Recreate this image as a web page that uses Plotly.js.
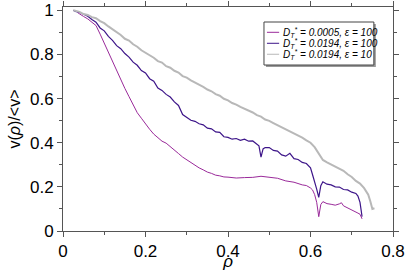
<!DOCTYPE html>
<html><head><meta charset="utf-8">
<script src="https://cdn.plot.ly/plotly-3.0.1.min.js"></script>
<style>html,body{margin:0;padding:0;background:#fff}#c{width:407px;height:271px}</style>
</head><body><div id="c"></div>
<script>
const seriesNames = [
  "<i>D<sub>T</sub><sup>*</sup> = 0.0005, ε = 100</i>",
  "<i>D<sub>T</sub><sup>*</sup> = 0.0194, ε = 100</i>",
  "<i>D<sub>T</sub><sup>*</sup> = 0.0194, ε = 10</i>"
];
const rhoA = [0.035,0.04,0.05,0.06,0.07,0.08,0.09,0.10,0.11,0.12,0.13,0.14,0.15,0.16,0.17,0.18,0.19,0.20,0.21,0.22,0.23,0.24,0.25,0.26,0.27,0.28,0.29,0.30,0.31,0.32,0.33,0.34,0.35,0.36,0.37,0.38,0.39,0.40,0.42,0.44,0.46,0.48,0.50,0.52,0.54,0.56,0.58,0.59,0.60,0.605,0.61,0.615,0.62,0.625,0.63,0.64,0.65,0.66,0.67,0.675,0.68,0.69,0.70,0.71,0.715,0.72,0.725];
const vA = [0.990,0.985,0.972,0.961,0.947,0.931,0.892,0.850,0.812,0.764,0.724,0.684,0.646,0.609,0.572,0.536,0.511,0.485,0.461,0.439,0.423,0.407,0.398,0.381,0.364,0.351,0.335,0.323,0.307,0.298,0.286,0.277,0.267,0.261,0.253,0.250,0.245,0.244,0.240,0.242,0.243,0.248,0.244,0.239,0.227,0.221,0.209,0.206,0.195,0.186,0.165,0.130,0.065,0.120,0.133,0.124,0.121,0.117,0.123,0.128,0.114,0.105,0.096,0.089,0.081,0.076,0.055];
const rhoB = [0.025,0.03,0.04,0.05,0.06,0.07,0.08,0.09,0.10,0.11,0.12,0.13,0.14,0.15,0.16,0.17,0.18,0.19,0.20,0.21,0.22,0.23,0.24,0.25,0.26,0.27,0.28,0.29,0.30,0.31,0.32,0.33,0.34,0.35,0.36,0.37,0.38,0.39,0.40,0.41,0.42,0.43,0.44,0.45,0.46,0.47,0.475,0.48,0.485,0.49,0.50,0.51,0.52,0.53,0.54,0.55,0.56,0.57,0.58,0.59,0.60,0.605,0.61,0.615,0.62,0.625,0.63,0.64,0.65,0.66,0.67,0.68,0.69,0.70,0.71,0.715,0.72,0.725];
const vB = [1.000,0.995,0.991,0.980,0.973,0.958,0.946,0.920,0.907,0.882,0.864,0.840,0.826,0.804,0.788,0.765,0.751,0.727,0.716,0.690,0.679,0.648,0.637,0.619,0.607,0.585,0.569,0.528,0.514,0.502,0.497,0.486,0.481,0.466,0.463,0.449,0.447,0.427,0.424,0.416,0.419,0.411,0.416,0.407,0.408,0.393,0.386,0.335,0.372,0.378,0.378,0.365,0.362,0.345,0.339,0.352,0.328,0.324,0.311,0.306,0.286,0.255,0.225,0.190,0.152,0.205,0.223,0.212,0.209,0.200,0.199,0.188,0.186,0.176,0.170,0.158,0.130,0.065];
const rhoC = [0.025,0.03,0.04,0.05,0.06,0.07,0.08,0.09,0.10,0.11,0.12,0.13,0.14,0.15,0.16,0.17,0.18,0.19,0.20,0.21,0.22,0.23,0.24,0.25,0.26,0.27,0.28,0.29,0.30,0.31,0.32,0.33,0.34,0.35,0.36,0.37,0.38,0.39,0.40,0.41,0.42,0.43,0.44,0.45,0.46,0.47,0.48,0.49,0.50,0.51,0.52,0.53,0.54,0.55,0.56,0.57,0.58,0.59,0.60,0.61,0.62,0.63,0.64,0.65,0.66,0.67,0.68,0.69,0.70,0.71,0.72,0.73,0.74,0.745,0.75,0.755];
const vC = [1.000,0.997,0.993,0.983,0.979,0.969,0.964,0.951,0.942,0.927,0.915,0.899,0.888,0.871,0.863,0.846,0.835,0.819,0.808,0.795,0.785,0.770,0.763,0.747,0.740,0.726,0.718,0.702,0.695,0.683,0.674,0.663,0.653,0.641,0.633,0.620,0.613,0.599,0.592,0.580,0.573,0.562,0.554,0.544,0.537,0.525,0.518,0.505,0.499,0.489,0.480,0.469,0.462,0.451,0.443,0.432,0.423,0.411,0.400,0.380,0.352,0.322,0.311,0.302,0.294,0.283,0.273,0.257,0.245,0.227,0.215,0.194,0.165,0.135,0.100,0.103];
const xTicks = [0,0.2,0.4,0.6,0.8];
const yTicks = [0,0.2,0.4,0.6,0.8,1];
const colors = ["#9a2a9a","#3d1589","#b8b8b8"];

const font = {family:"Liberation Sans, Arial, sans-serif", color:"#000"};
const traces = [
  {x:rhoA, y:vA, name:seriesNames[0], mode:"lines", line:{color:colors[0], width:1}},
  {x:rhoB, y:vB, name:seriesNames[1], mode:"lines", line:{color:colors[1], width:1.2}},
  {x:rhoC, y:vC, name:seriesNames[2], mode:"lines", line:{color:colors[2], width:2}}
];
// legend drawn as a panel (paper coords)
const lgX0 = 0.609, lgX1 = 0.942, lgY0 = 0.741, lgY1 = 0.933;
const rowY = [0.887, 0.838, 0.789];
const shapes = [
  {type:"rect", xref:"paper", yref:"paper", x0:lgX0+0.006, x1:lgX1+0.006, y0:lgY0-0.009, y1:lgY1-0.009, fillcolor:"#999", line:{width:0}},
  {type:"rect", xref:"paper", yref:"paper", x0:lgX0, x1:lgX1, y0:lgY0, y1:lgY1, fillcolor:"#fff", line:{color:"#444", width:1}}
];
const annotations = [];
seriesNames.forEach((n,i)=>{
  shapes.push({type:"line", xref:"paper", yref:"paper", x0:0.618, x1:0.655, y0:rowY[i], y1:rowY[i], line:{color:colors[i], width:1}});
  annotations.push({xref:"paper", yref:"paper", x:0.662, y:rowY[i], xanchor:"left", yanchor:"middle", showarrow:false,
    text:n, font:Object.assign({size:10},font)});
});
const axisCommon = {showline:true, linecolor:"#555", linewidth:1, mirror:"ticks", ticks:"outside",
  ticklen:5, tickcolor:"#555", showgrid:false, zeroline:false, tickfont:Object.assign({size:17},font)};
const layout = {
  width:407, height:271, margin:{l:63, r:14, t:7, b:40},
  paper_bgcolor:"#fff", plot_bgcolor:"#fff", font:font, showlegend:false,
  shapes:shapes, annotations:annotations,
  xaxis:Object.assign({}, axisCommon, {range:[0,0.8], tickvals:xTicks, ticktext:xTicks.map(String),
    minor:{dtick:0.1, ticklen:3, ticks:"outside", tickcolor:"#555"},
    title:{text:"<i>ρ</i>", font:Object.assign({size:17},font), standoff:0}}),
  yaxis:Object.assign({}, axisCommon, {range:[0,1.015], tickvals:yTicks, ticktext:yTicks.map(String),
    minor:{dtick:0.1, ticklen:3, ticks:"outside", tickcolor:"#555"},
    title:{text:"v(<i>ρ</i>)/<v>", font:Object.assign({size:16},font), standoff:5}})
};
Plotly.newPlot("c", traces, layout, {staticPlot:true, displayModeBar:false});
</script></body></html>
